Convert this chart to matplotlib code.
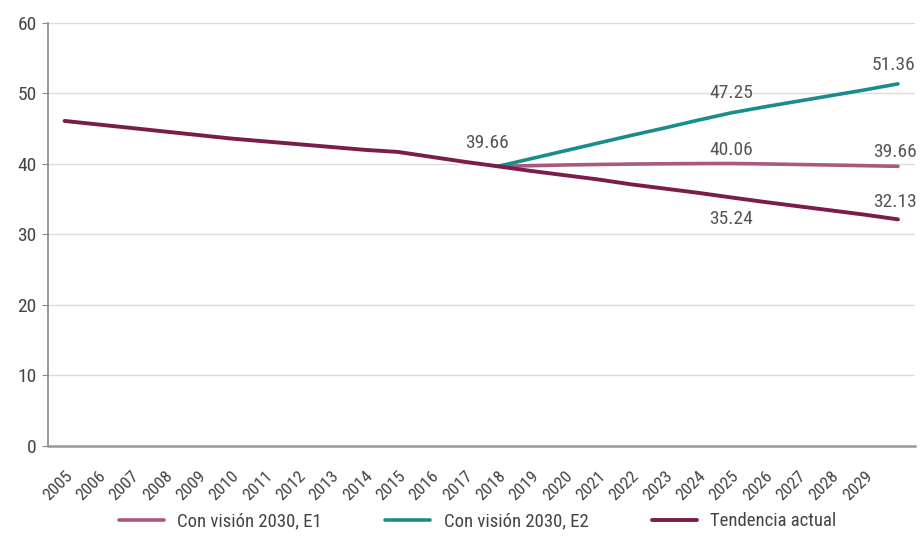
import numpy as np
import matplotlib
matplotlib.use("Agg")
import matplotlib.pyplot as plt
from matplotlib import font_manager

# Prefer a condensed sans when one is installed
available = {f.name for f in font_manager.fontManager.ttflist}
base_font = "Open Sans"
for cand in ["Liberation Sans Narrow", "DejaVu Sans Condensed", "Roboto Condensed", "Open Sans Condensed"]:
    if cand in available:
        base_font = cand
        break
plt.rcParams["font.family"] = [base_font, "DejaVu Sans"]

years = list(range(2005, 2031))
tick_labels = [str(y) for y in range(2005, 2030)]

tendencia = [46.1, 45.6, 45.1, 44.6, 44.1, 43.6, 43.2, 42.8, 42.4, 42.0,
             41.7, 41.0, 40.3, 39.66, 39.0, 38.4, 37.8, 37.1, 36.5, 35.9,
             35.24, 34.6, 34.0, 33.4, 32.8, 32.13]
e1 = [np.nan] * 13 + [39.66, 39.75, 39.85, 39.92, 39.98, 40.02, 40.05,
                      40.06, 40.00, 39.92, 39.84, 39.75, 39.66]
e2 = [np.nan] * 13 + [39.66, 40.75, 41.85, 42.95, 44.05, 45.1, 46.2,
                      47.25, 48.1, 48.9, 49.7, 50.5, 51.36]

series_names = ["Con visión 2030, E1", "Con visión 2030, E2", "Tendencia actual"]
colors = ["#a85a7e", "#1b8c8c", "#7a1d49"]

fig = plt.figure(figsize=(9.22, 5.47), dpi=100)
ax = fig.add_axes([0.052, 0.185, 0.940, 0.773])

ax.plot(years, e1, color=colors[0], lw=2.6, label=series_names[0], solid_capstyle="round", zorder=3)
ax.plot(years, e2, color=colors[1], lw=2.6, label=series_names[1], solid_capstyle="round", zorder=3)
ax.plot(years, tendencia, color=colors[2], lw=2.8, label=series_names[2], solid_capstyle="round", zorder=4)

ax.set_ylim(0, 60)
ax.set_xlim(2004.5, 2030.5)
ax.set_yticks(range(0, 61, 10))
ax.yaxis.grid(True, color="#dcdcdc", lw=1)
ax.set_axisbelow(True)

ax.set_xticks(list(range(2005, 2030)))
ax.set_xticklabels(tick_labels, rotation=45, ha="right", rotation_mode="anchor",
                   fontsize=12.5, color="#444444")
ax.tick_params(axis="x", length=0, pad=16)
ax.tick_params(axis="y", length=4, color="#888888", labelsize=14, labelcolor="#444444", pad=4)

for s in ["top", "right"]:
    ax.spines[s].set_visible(False)
ax.spines["left"].set_color("#888888")
ax.spines["left"].set_linewidth(1.2)
ax.spines["bottom"].set_color("#999999")
ax.spines["bottom"].set_linewidth(1.8)

label_kw = dict(fontsize=14, color="#555555", ha="center")
i18 = years.index(2018)
i25 = years.index(2025)
i30 = years.index(2030)
ax.annotate(f"{tendencia[i18]:.2f}", (years[i18], tendencia[i18]), xytext=(-8, 10),
            textcoords="offset points", va="bottom", **label_kw)
ax.annotate(f"{e2[i25]:.2f}", (years[i25], e2[i25]), xytext=(0, 8),
            textcoords="offset points", va="bottom", **label_kw)
ax.annotate(f"{e1[i25]:.2f}", (years[i25], e1[i25]), xytext=(0, 3),
            textcoords="offset points", va="bottom", **label_kw)
ax.annotate(f"{tendencia[i25]:.2f}", (years[i25], tendencia[i25]), xytext=(0, -9),
            textcoords="offset points", va="top", **label_kw)
ax.annotate(f"{e2[i30]:.2f}", (years[i30], e2[i30]), xytext=(-3, 7),
            textcoords="offset points", va="bottom", **label_kw)
ax.annotate(f"{e1[i30]:.2f}", (years[i30], e1[i30]), xytext=(-2, 4),
            textcoords="offset points", va="bottom", **label_kw)
ax.annotate(f"{tendencia[i30]:.2f}", (years[i30], tendencia[i30]), xytext=(-2, 6),
            textcoords="offset points", va="bottom", **label_kw)

fig.legend(loc="lower center", bbox_to_anchor=(0.518, 0.0), ncol=3, frameon=False,
           fontsize=13.5, handlelength=2.4, columnspacing=3.4, handletextpad=0.7,
           labelcolor="#444444")

fig.savefig("out.png", dpi=100, facecolor="white")
